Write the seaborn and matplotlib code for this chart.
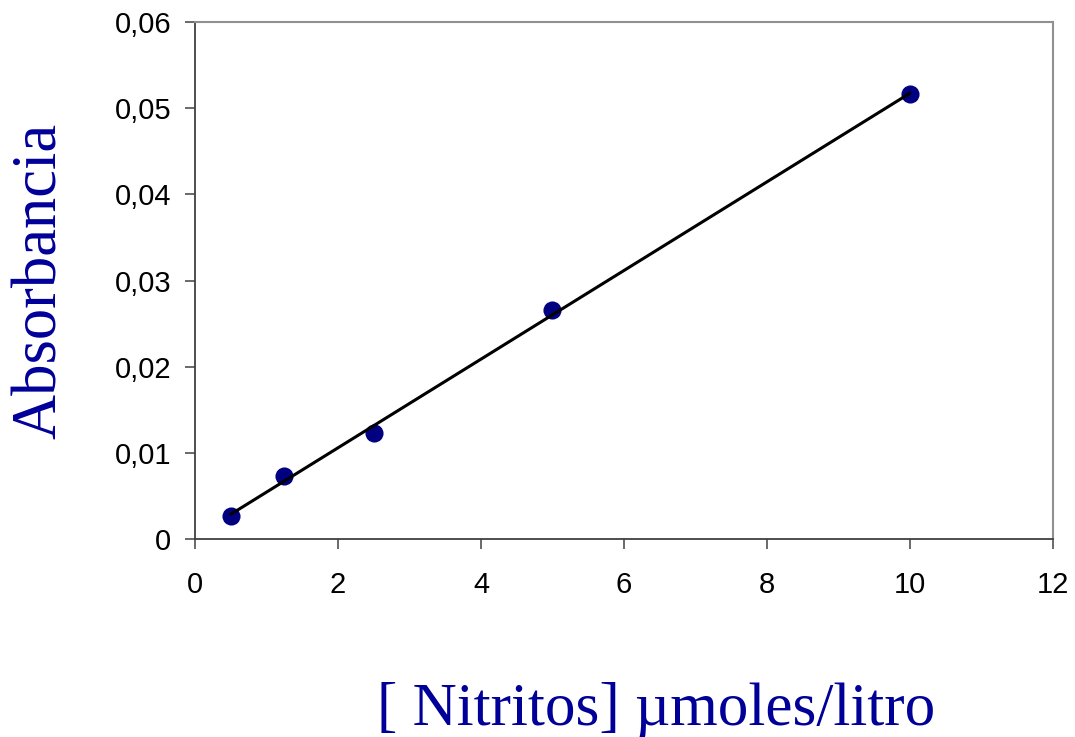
"""
Curva de calibrado de nitritos: absorbancia frente a concentracion
"""

import numpy as np
import pandas as pd
import matplotlib
matplotlib.use('Agg')
import matplotlib.pyplot as plt
import seaborn as sns
from matplotlib.ticker import FuncFormatter

# Datos
nitritos = [0.5, 1.25, 2.5, 5.0, 10.0]
absorbancia = [0.0027, 0.0073, 0.0123, 0.0266, 0.0516]

x_ticks = [0, 2, 4, 6, 8, 10, 12]
y_ticks = [0, 0.01, 0.02, 0.03, 0.04, 0.05, 0.06]

label_color = '#000099'
point_color = '#000080'


def comma_fmt(v, pos):
    if abs(v) < 1e-12:
        return '0'
    return f'{v:.2f}'.replace('.', ',')


def main():
    sns.set_style('white')
    plt.rcParams['font.family'] = ['Liberation Sans', 'DejaVu Sans']

    df = pd.DataFrame({'x': nitritos, 'y': absorbancia})

    fig = plt.figure(figsize=(10.75, 7.37), dpi=100)
    ax = fig.add_axes([0.1814, 0.2687, 0.7981, 0.7014])

    sns.regplot(data=df, x='x', y='y', ax=ax, ci=None, truncate=True,
                scatter_kws={'s': 170, 'color': point_color, 'alpha': 1,
                             'zorder': 2, 'linewidths': 0},
                line_kws={'color': 'black', 'lw': 2.2, 'zorder': 3})

    ax.set_xlim(x_ticks[0], x_ticks[-1])
    ax.set_ylim(y_ticks[0], y_ticks[-1])
    ax.set_xticks(x_ticks)
    ax.set_yticks(y_ticks)
    ax.yaxis.set_major_formatter(FuncFormatter(comma_fmt))

    ax.tick_params(axis='both', which='major', bottom=True, left=True,
                   direction='out', length=7, width=1.2,
                   colors='#505050', labelcolor='black', labelsize=21)
    ax.tick_params(axis='y', pad=10)
    ax.tick_params(axis='x', pad=16)

    for side in ['left', 'bottom']:
        ax.spines[side].set_color('#404040')
        ax.spines[side].set_linewidth(1.3)
    for side in ['top', 'right']:
        ax.spines[side].set_color('#909090')
        ax.spines[side].set_linewidth(1.5)

    ax.set_xlabel('[ Nitritos] µmoles/litro', fontsize=44, family='Liberation Serif',
                  color=label_color)
    ax.set_ylabel('Absorbancia', fontsize=45, family='Liberation Serif',
                  color=label_color)
    ax.xaxis.set_label_coords(0.538, -0.276)
    ax.yaxis.set_label_coords(-0.146, 0.5)

    fig.savefig('out.png', dpi=100)


if __name__ == '__main__':
    main()
